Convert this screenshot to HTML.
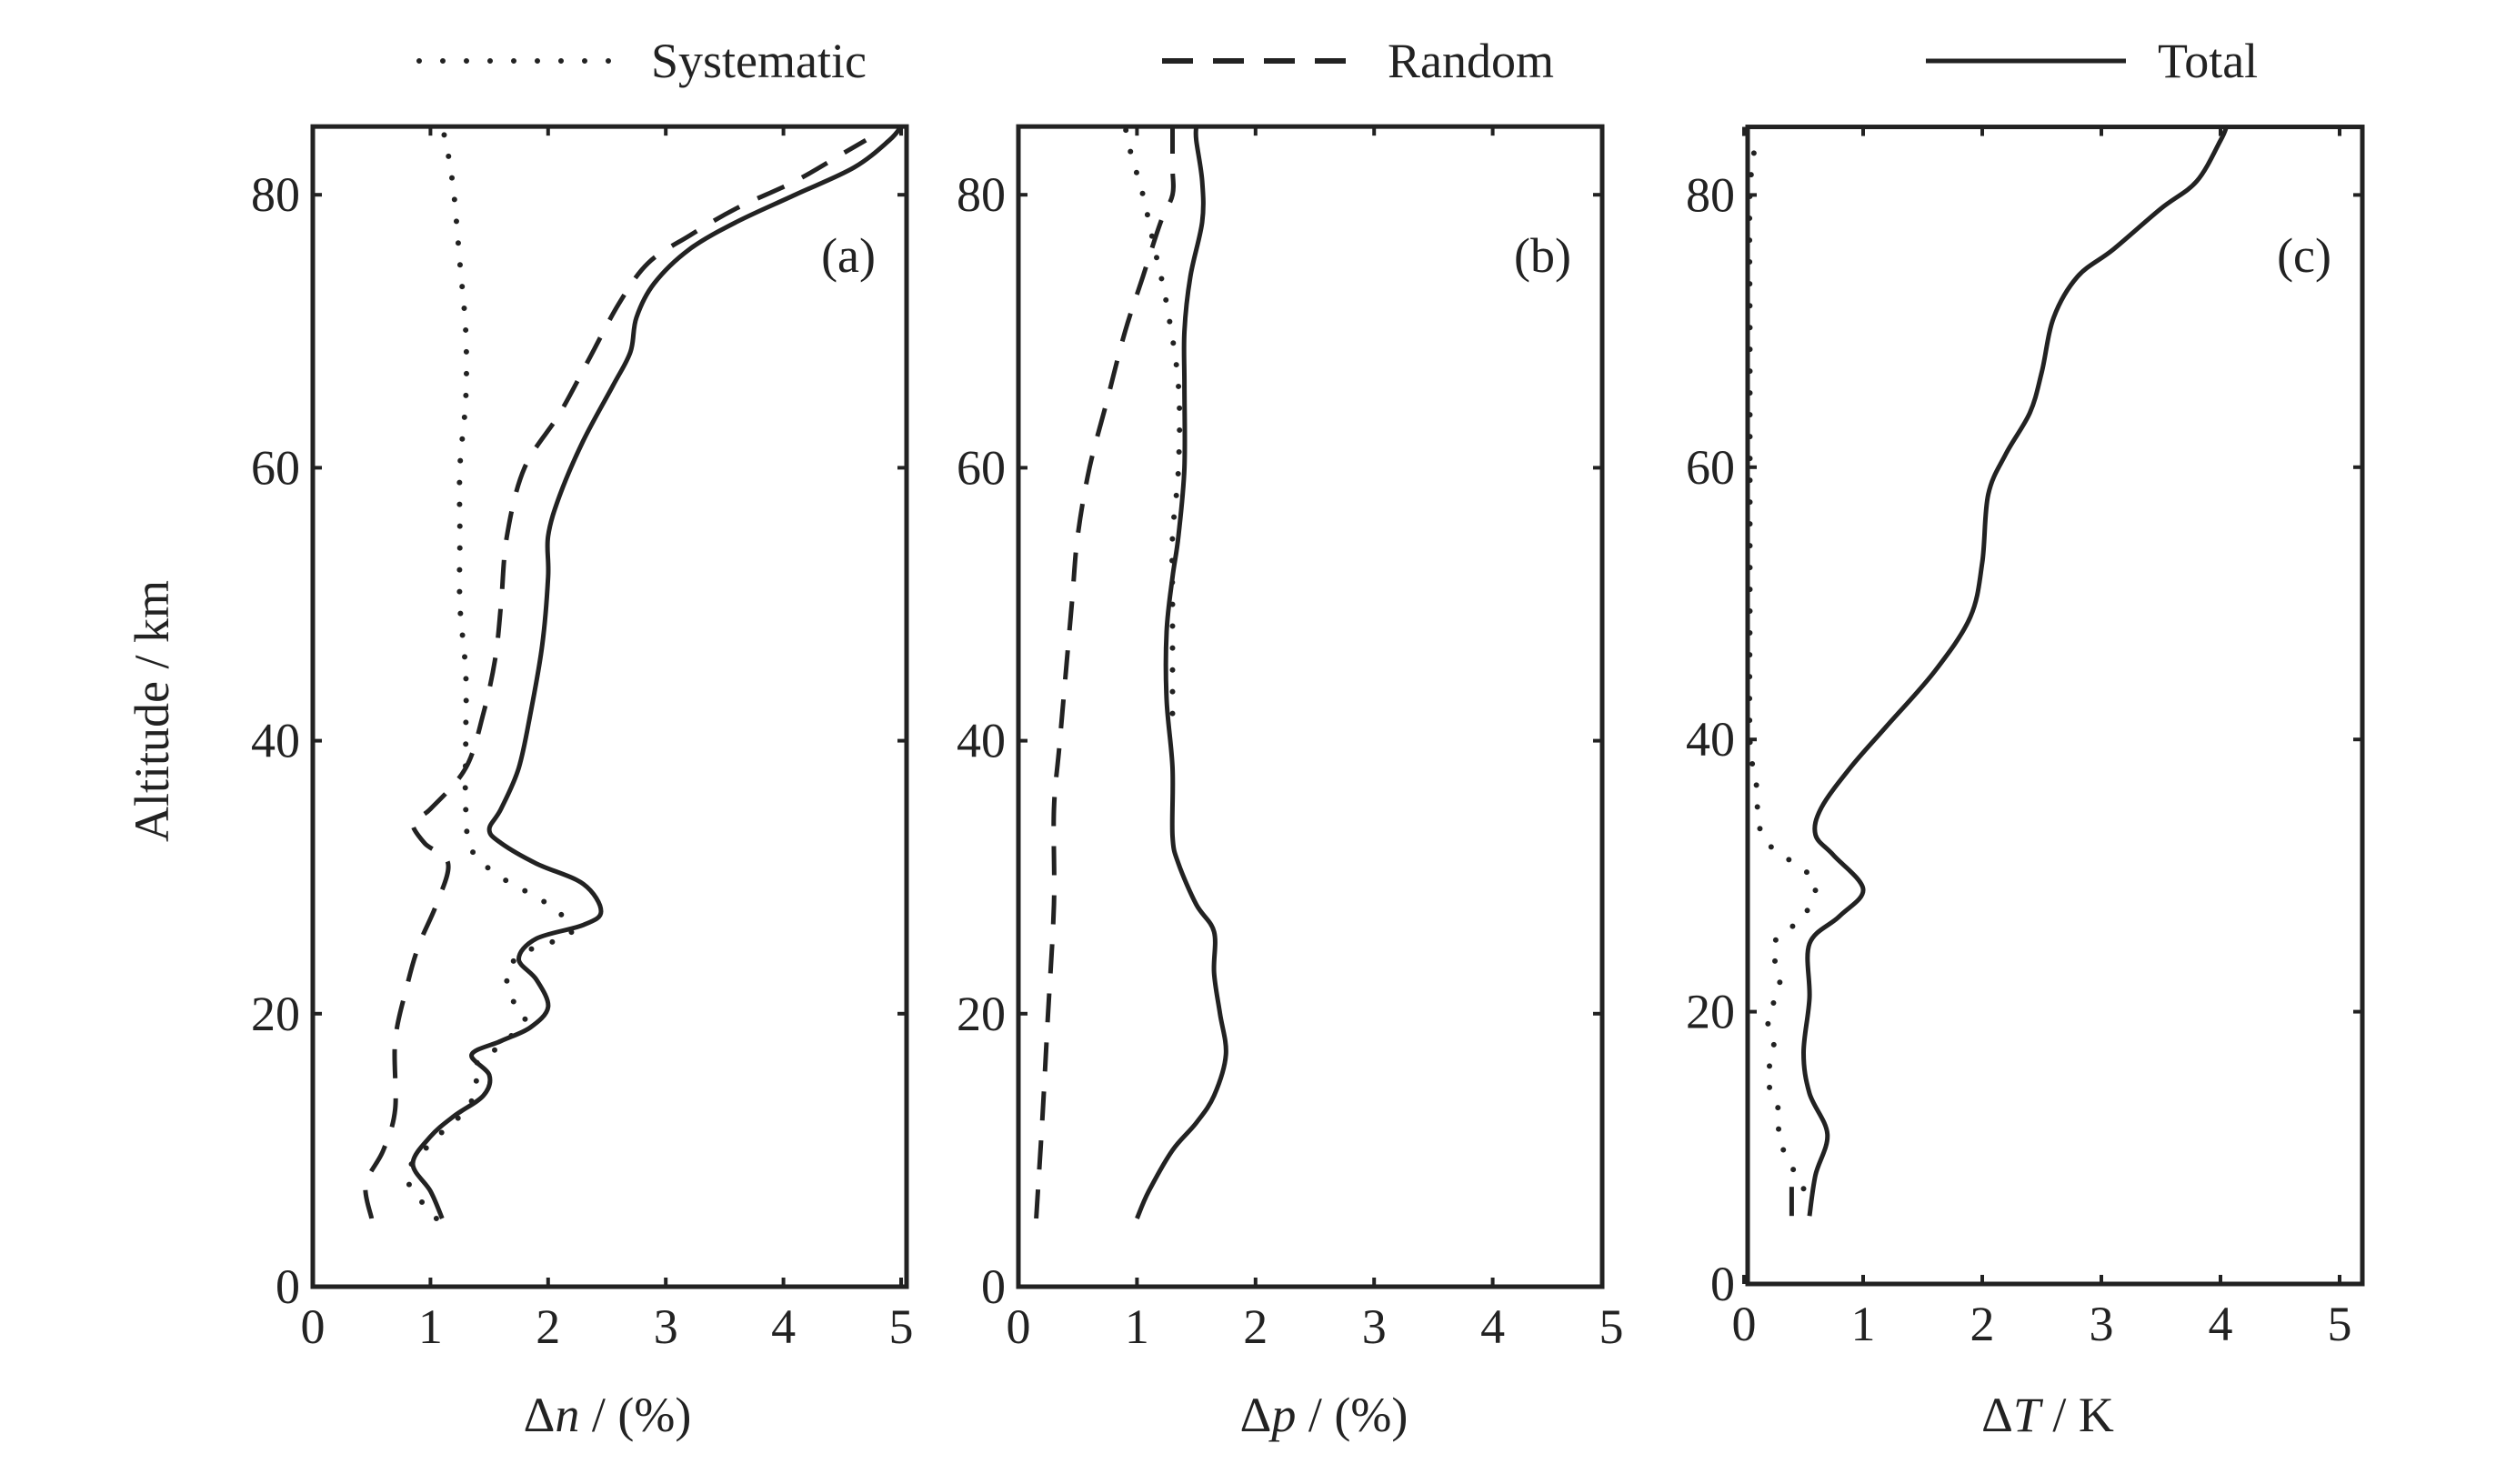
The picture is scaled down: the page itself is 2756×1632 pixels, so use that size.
<!DOCTYPE html>
<html><head><meta charset="utf-8"><style>
html,body{margin:0;padding:0;background:#fff;}
svg{display:block;}
text{font-family:"Liberation Serif",serif;fill:#222;}
</style></head><body>
<svg id="s" width="2756" height="1632" viewBox="0 0 2756 1632" xmlns="http://www.w3.org/2000/svg">
<g font-size="54">
<line x1="461" y1="67" x2="673" y2="67" stroke="#222" stroke-width="6" stroke-dasharray="0 26" stroke-linecap="round"/>
<text x="716" y="85">Systematic</text>
<line x1="1278" y1="67" x2="1494" y2="67" stroke="#222" stroke-width="6" stroke-dasharray="34 22"/>
<text x="1526" y="85">Random</text>
<line x1="2118" y1="67" x2="2338" y2="67" stroke="#222" stroke-width="5"/>
<text x="2373" y="85">Total</text>
<text transform="translate(185,782) rotate(-90)" text-anchor="middle">Altitude / km</text>
<text x="668" y="1574" text-anchor="middle">Δ<tspan font-style="italic">n</tspan> / (%)</text>
<text x="1456" y="1574" text-anchor="middle">Δ<tspan font-style="italic">p</tspan> / (%)</text>
<text x="2252" y="1574" text-anchor="middle">Δ<tspan font-style="italic">T</tspan> / K</text>
</g>
<g id="plots"></g>
</svg>
<script>
const P=[
{x0:344,u:129.4,y0:1415,k:15.01,L:344,R:997,lab:"(a)",
 tot:[[1.1,5],[1.0,7],[0.85,9],[1.0,11],[1.2,12.5],[1.45,14],[1.5,15.5],[1.35,17],[1.6,18],[1.85,19],[2.0,20.5],[1.9,22.5],[1.75,24],[1.9,25.5],[2.3,26.5],[2.45,27.5],[2.3,29.5],[1.9,31],[1.6,32.5],[1.5,33.5],[1.6,35],[1.75,38],[1.85,42],[1.95,47],[2.0,52],[2.0,55],[2.1,58],[2.3,62],[2.55,66],[2.7,68.5],[2.75,71],[2.9,73.5],[3.2,76],[3.6,78],[4.1,80],[4.6,82],[4.9,84],[5.0,85]],
 ran:[[0.5,5],[0.45,7.5],[0.6,10],[0.7,13],[0.7,18],[0.8,22],[0.9,25],[1.05,28],[1.15,31],[0.95,32.5],[0.85,34],[1.0,35],[1.3,38],[1.45,42],[1.55,46],[1.6,50],[1.65,55],[1.8,60],[2.1,64],[2.35,68],[2.6,72],[2.85,75],[3.2,77],[3.6,79],[4.1,81],[4.5,83],[4.7,84]],
 sys:[[1.05,5],[0.8,8],[1.0,10.5],[1.25,12.5],[1.4,14.5],[1.35,16],[1.5,17],[1.8,19.5],[1.7,21],[1.65,23],[1.8,24.5],[2.2,26],[2.0,28],[1.6,30],[1.35,32],[1.3,35],[1.3,40],[1.3,45],[1.25,50],[1.25,55],[1.25,60],[1.3,65],[1.3,70],[1.25,75],[1.2,80],[1.15,83],[1.1,85]]},
{x0:1120,u:130.4,y0:1415,k:15.01,L:1120,R:1762,lab:"(b)",
 tot:[[1.0,5],[1.1,7],[1.3,10],[1.5,12],[1.65,14],[1.75,17],[1.7,20],[1.65,23],[1.65,26],[1.5,28],[1.35,31],[1.3,33],[1.3,38],[1.25,43],[1.25,48],[1.3,52],[1.35,55],[1.4,60],[1.4,66],[1.4,70],[1.45,74],[1.55,78],[1.55,81],[1.5,84],[1.5,85]],
 ran:[[0.15,5],[0.2,12],[0.25,20],[0.3,28],[0.3,35],[0.35,40],[0.45,50],[0.5,55],[0.6,60],[0.75,65],[0.9,70],[1.05,74],[1.2,78],[1.3,80],[1.3,82],[1.3,85]],
 sys:[[1.3,42],[1.3,50],[1.3,55],[1.35,60],[1.35,66],[1.25,72],[1.15,76],[1.05,80],[0.95,83],[0.9,85]]},
{x0:1918,u:131,y0:1412,k:14.97,L:1922,R:2598,lab:"(c)",
 tot:[[0.55,5],[0.6,8],[0.7,11],[0.55,14],[0.5,17],[0.55,21],[0.55,25],[0.8,27],[1.0,29],[0.75,31.5],[0.6,33],[0.65,35],[0.9,38],[1.2,41],[1.6,45],[1.9,49],[2.0,53],[2.05,58],[2.2,61],[2.4,64],[2.5,67],[2.6,71],[2.8,74],[3.1,76],[3.5,79],[3.8,81],[4.0,84],[4.05,85]],
 ran:[[0.4,5],[0.4,8]],
 sys:[[0.5,7],[0.3,10.5],[0.3,12.5],[0.2,15],[0.25,17.5],[0.2,19.5],[0.3,22],[0.25,25],[0.5,27],[0.6,29.5],[0.4,31],[0.15,33],[0.1,37],[0.05,40],[0.05,50],[0.05,60],[0.05,70],[0.05,80],[0.1,84]]}
];
function smooth(ps){
 if(ps.length<3) return "M"+ps.map(p=>p[0].toFixed(1)+","+p[1].toFixed(1)).join(" L");
 let d="M"+ps[0][0].toFixed(1)+","+ps[0][1].toFixed(1);
 for(let i=0;i<ps.length-1;i++){
  const p0=ps[i-1]||ps[i],p1=ps[i],p2=ps[i+1],p3=ps[i+2]||p2;
  const c1=[p1[0]+(p2[0]-p0[0])/6,p1[1]+(p2[1]-p0[1])/6];
  const c2=[p2[0]-(p3[0]-p1[0])/6,p2[1]-(p3[1]-p1[1])/6];
  d+=` C${c1[0].toFixed(1)},${c1[1].toFixed(1)} ${c2[0].toFixed(1)},${c2[1].toFixed(1)} ${p2[0].toFixed(1)},${p2[1].toFixed(1)}`;
 }
 return d;
}
let h="";
for(const p of P){
 const X=v=>p.x0+v*p.u, Y=a=>p.y0-a*p.k, top=Y(85);
 const pts=a=>smooth(a.map(q=>[X(q[0]),Y(q[1])]));
 h+=`<rect x="${p.L}" y="${top}" width="${p.R-p.L}" height="${p.y0-top}" fill="none" stroke="#222" stroke-width="5"/>`;
 for(let i=0;i<=5;i++){const x=X(i);
  if(x<=p.R){h+=`<line x1="${x}" y1="${p.y0}" x2="${x}" y2="${p.y0-10}" stroke="#222" stroke-width="4"/><line x1="${x}" y1="${top}" x2="${x}" y2="${top+10}" stroke="#222" stroke-width="4"/>`;}
  h+=`<text x="${x}" y="${p.y0+62}" font-size="54" text-anchor="middle">${i}</text>`;}
 for(let a=0;a<=80;a+=20){const y=Y(a);
  h+=`<line x1="${p.L}" y1="${y}" x2="${p.L+10}" y2="${y}" stroke="#222" stroke-width="4"/><line x1="${p.R}" y1="${y}" x2="${p.R-10}" y2="${y}" stroke="#222" stroke-width="4"/>`;
  h+=`<text x="${p.L-14}" y="${y+18}" font-size="54" text-anchor="end">${a}</text>`;}
 h+=`<text x="${p.R-34}" y="299" font-size="54" text-anchor="end">${p.lab}</text>`;
 h+=`<path d="${pts(p.sys)}" fill="none" stroke="#222" stroke-width="6" stroke-dasharray="0 24" stroke-linecap="round"/>`;
 h+=`<path d="${pts(p.ran)}" fill="none" stroke="#222" stroke-width="5" stroke-dasharray="32 22"/>`;
 h+=`<path d="${pts(p.tot)}" fill="none" stroke="#222" stroke-width="5" stroke-linejoin="round"/>`;
}
document.getElementById("plots").innerHTML=h;
</script>
</body></html>
